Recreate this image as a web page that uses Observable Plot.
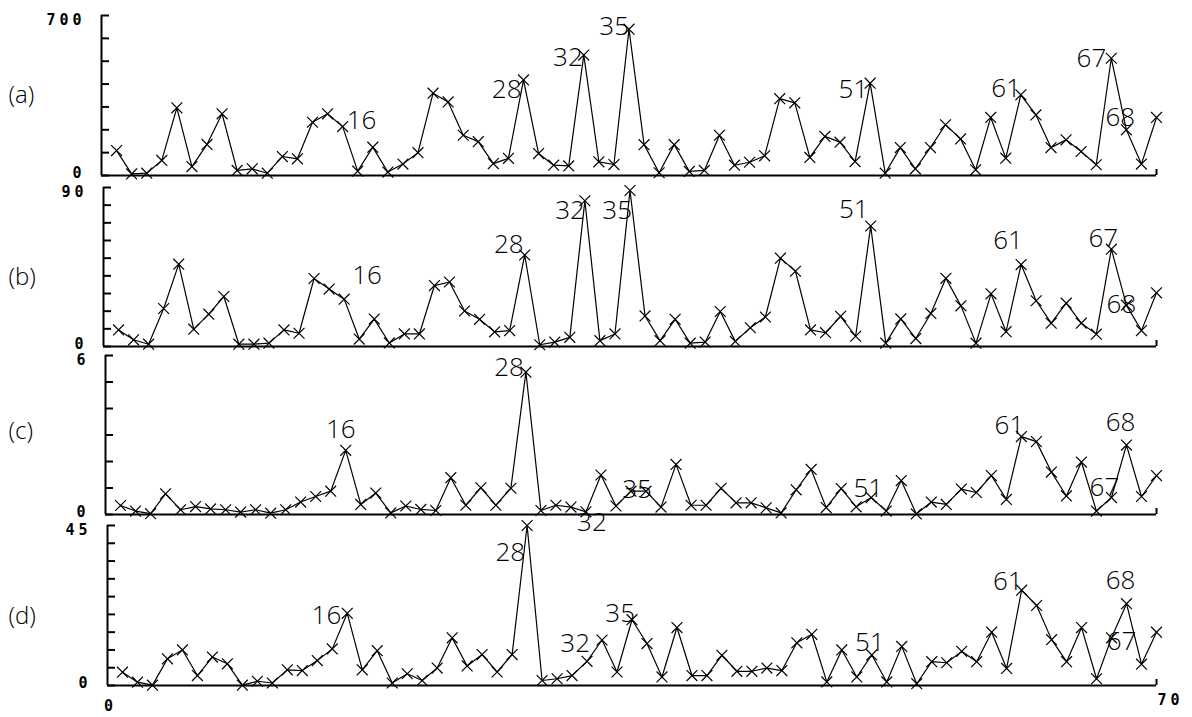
<!DOCTYPE html>
<html><head><meta charset="utf-8">
<script src="https://cdn.jsdelivr.net/npm/d3@7"></script>
<script src="https://cdn.jsdelivr.net/npm/@observablehq/plot@0.6"></script>
<style>
html,body{margin:0;padding:0;background:#fff;}
#chart{position:relative;width:1192px;height:717px;overflow:hidden;background:#fff;}
#chart svg{position:absolute;left:0;}
#chart g[font-family*="Mono"] text{letter-spacing:4px;}
</style></head><body><div id="chart"></div>
<script>
// ---------- data ----------
const xPositions = [1,2,3,4,5,6,7,8,9,10,11,12,13,14,15,16,17,18,19,20,21,22,23,24,25,26,27,28,29,30,31,32,33,34,35,36,37,38,39,40,41,42,43,44,45,46,47,48,49,50,51,52,53,54,55,56,57,58,59,60,61,62,63,64,65,66,67,68,69,70];
const seriesA = [109,7,10,66,296,39,136,270,22,29, 10,83,73,233,270,214,19,124,15,50, 100,360,322,176,148,52,75,418,96,45, 42,527,60,48,640,135,12,135,18,22, 176,45,58,86,336,318,79,171,146,61, 404,10,122,29,122,222,160,25,254,76, 353,265,122,156,105,47,513,200,50,254];
const seriesB = [9.4,3.8,1.3,21.5,46.6,9.8,18.3,28.3,1.3,1.3, 1.9,9.4,7.5,38.5,32.5,26.8,4.2,15.5,2.0,7.1, 7.1,34.5,36.5,20.1,15.4,8.3,9.0,51.8,1.0,2.5, 5.2,82.5,3.3,7.1,88.3,17.3,3.3,15.4,1.9,2.5, 19.8,2.9,10.6,16.7,50.0,42.6,9.4,7.8,17.1,5.8, 68.2,1.9,15.6,4.5,18.7,38.6,23.0,1.9,29.8,8.4, 46.4,25.9,13.2,24.5,13.2,7.0,55.1,23.4,9.0,30.4];
const seriesC = [0.34,0.13,0.03,0.78,0.18,0.30,0.21,0.18,0.09,0.18, 0.05,0.18,0.47,0.68,0.88,2.42,0.38,0.81,0.06,0.32, 0.19,0.15,1.39,0.35,1.01,0.35,0.99,5.37,0.15,0.35, 0.28,0.10,1.49,0.32,0.88,0.88,0.28,1.89,0.35,0.35, 0.99,0.44,0.44,0.25,0.06,0.93,1.70,0.26,0.98,0.29, 0.64,0.13,1.28,0.02,0.47,0.38,0.96,0.83,1.47,0.57, 2.94,2.75,1.60,0.70,1.98,0.13,0.64,2.62,0.68,1.47];
const seriesD = [3.75,0.94,0.1,7.5,10.0,2.8,8.0,6.1,0.1,1.2, 0.7,4.4,4.2,7.0,10.3,20.3,4.4,9.8,0.7,3.3, 1.4,4.9,13.4,5.5,8.7,3.8,8.7,45,1.4,1.9, 2.8,6.8,12.8,3.8,18.5,11.8,2.4,16.3,2.8,2.8, 8.5,4.0,4.0,4.9,4.2,12.0,14.4,1.0,10.0,2.4, 8.6,1.0,11.0,0.5,6.7,6.4,9.6,6.7,15.0,4.8, 26.8,22.5,12.9,6.7,16.3,1.9,13.4,23.0,6.0,15.0];
const panelNames = ["(a)","(b)","(c)","(d)"];
const peakLabels = [16,28,32,35,51,61,67,68];
const yTicksA = [0,100,200,300,400,500,600,700];
const yTicksB = [0,10,20,30,40,50,60,70,80,90];
const yTicksC = [0,1,2,3,4,5,6];
const yTicksD = [0,5,10,15,20,25,30,35,40,45];
const yTickLabelsA = [0,700];
const yTickLabelsB = [0,90];
const yTickLabelsC = [0,6];
const yTickLabelsD = [0,45];
const xTickLabels = [0,70];
const xDomain = [0,70];

// ---------- layout / style ----------
const W = 1192, RIGHT = 1156, MT = 25, MB = 35;
const labelFont = "'Open Sans', 'Liberation Sans', sans-serif";
const monoFont = "'DejaVu Sans Mono', monospace";
const monoStyle = {fontFamily: monoFont, fontWeight: "bold", fontSize: 15};
// per-label offsets: [textAnchor, dx, dy] in the order of peakLabels
const layouts = [
  {values: seriesA, ticks: yTicksA, tickLabels: yTickLabelsA, top: 15, h: 160, left: 101, nameDy: 0,
   offs: [["start",4,-6],["end",-2,10],["end",-1,3],["end",0,-3],["end",-2,7],["end",0,-6],["end",-5,0],["middle",-6,-12]]},
  {values: seriesB, ticks: yTicksB, tickLabels: yTickLabelsB, top: 187, h: 159, left: 103, nameDy: 10,
   offs: [["start",8,-23],["end",-1,-10],["end",0,10],["end",2,20],["end",-2,-16],["middle",-13,-24],["middle",-8,-10],["middle",-5,0]]},
  {values: seriesC, ticks: yTicksC, tickLabels: yTickLabelsC, top: 355, h: 159, left: 105, nameDy: -4,
   offs: [["middle",-5,-21],["end",-2,-5],["middle",6,11],["middle",6,-2],["middle",-3,-9],["middle",-12,-11],["middle",-7,-10],["middle",-6,-22]]},
  {values: seriesD, ticks: yTicksD, tickLabels: yTickLabelsD, top: 525, h: 160, left: 107, nameDy: 11,
   offs: [["end",-6,2],["end",-2,27],["end",3,-18],["end",3,-6],["middle",-2,-12],["end",1,-9],["middle",10,4],["middle",-6,-23]]}
];

const chart = document.getElementById("chart");
layouts.forEach((p, pi) => {
  const data = xPositions.map((x, i) => ({x, y: p.values[i]}));
  const yMax = p.ticks[p.ticks.length - 1];
  const marks = [
    Plot.ruleX([xDomain[0]], {strokeWidth: 2}),
    Plot.ruleY([0], {strokeWidth: 2}),
    Plot.axisY(p.ticks, {anchor: "left", tickSize: -8, strokeWidth: 2, tickFormat: () => "", label: null}),
    Plot.axisX([xDomain[1]], {anchor: "bottom", tickSize: -6, strokeWidth: 2, tickFormat: () => "", label: null}),
    Plot.text([p.tickLabels[1]], {y: d => d, text: d => String(d), frameAnchor: "left", textAnchor: "end", dx: -16, dy: 5, ...monoStyle}),
    Plot.text([p.tickLabels[0]], {y: d => d, text: d => String(d), frameAnchor: "left", textAnchor: "end", dx: -16, dy: -2, ...monoStyle}),
    Plot.line(data, {x: "x", y: "y", stroke: "black", strokeWidth: 1.2}),
    Plot.dot(data, {x: "x", y: "y", symbol: "times", r: 5, stroke: "black", strokeWidth: 1.2}),
    Plot.text([panelNames[pi]], {text: d => d, frameAnchor: "left", textAnchor: "start", dx: 8 - p.left, dy: p.nameDy,
      fontFamily: labelFont, fontWeight: 300, fontSize: 24})
  ];
  peakLabels.forEach((lx, li) => {
    const [anchor, dx, dy] = p.offs[li];
    marks.push(Plot.text([{x: lx, y: p.values[lx - 1]}], {x: "x", y: "y", text: d => String(d.x),
      textAnchor: anchor, dx, dy, fontFamily: labelFont, fontWeight: 300, fontSize: 26, fill: "black"}));
  });
  if (pi === layouts.length - 1) {
    marks.push(Plot.text([xTickLabels[0]], {x: d => d, text: d => String(d), frameAnchor: "bottom", dy: 25, dx: 3, ...monoStyle}));
    marks.push(Plot.text([xTickLabels[1]], {x: d => d, text: d => String(d), frameAnchor: "bottom", dy: 19, textAnchor: "start", dx: 1, ...monoStyle}));
  }
  const svg = Plot.plot({
    width: W, height: MT + p.h + MB,
    marginLeft: p.left, marginRight: W - RIGHT, marginTop: MT, marginBottom: MB,
    x: {domain: xDomain, label: null},
    y: {domain: [0, yMax], label: null},
    style: {background: "transparent", overflow: "visible", color: "black"},
    marks
  });
  svg.style.top = (p.top - MT) + "px";
  chart.appendChild(svg);
});
</script></body></html>
